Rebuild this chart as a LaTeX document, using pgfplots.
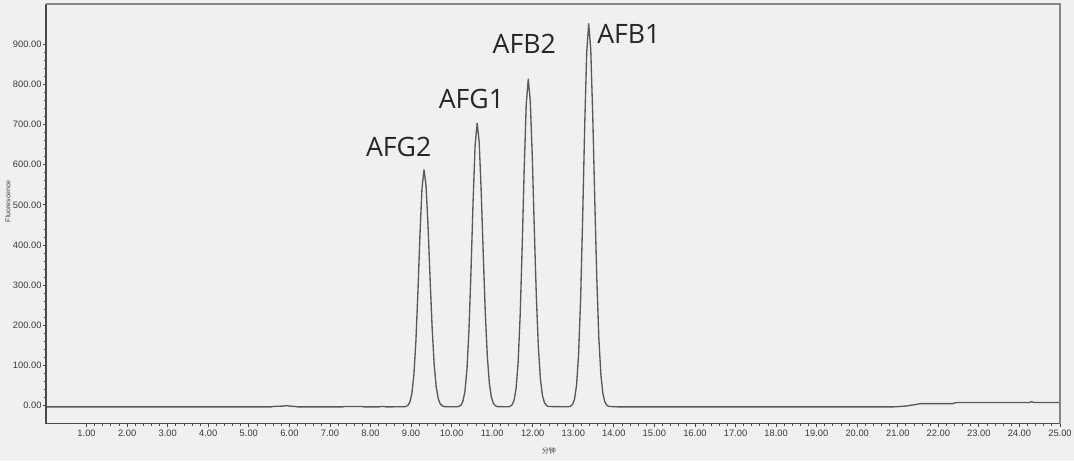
\documentclass[border=0pt]{standalone}
\usepackage{fontspec}
\setmainfont{Liberation Sans}
\newfontfamily\labfont{Open Sans}
\newfontfamily\cjk{Noto Sans CJK SC}
\usepackage{pgfplots}
\pgfplotsset{compat=1.18}
\definecolor{bg}{HTML}{F0F0F0}
\definecolor{curve}{HTML}{595959}
\definecolor{frameA}{HTML}{4A4A4A}
\definecolor{frameB}{HTML}{858585}
\definecolor{ticktext}{HTML}{3A3A3A}
\begin{document}
\begin{tikzpicture}
\fill[bg] (-34.5pt,-28pt) rectangle (771pt,317.8pt);
\begin{axis}[
  at={(0,0)}, anchor=south west,
  scale only axis, width=760.5pt, height=314.8pt,
  xmin=0, xmax=25, ymin=-45, ymax=1000,
  xtick={1,2,...,25}, ytick={0,100,...,900},
  minor x tick num=4, minor y tick num=4,
  xtick pos=bottom, ytick pos=left,
  tick align=outside,
  major tick length=2.6pt, minor tick length=1.4pt,
  every tick/.style={frameA, line width=0.6pt},
  axis line style={draw=none},
  /pgf/number format/assume math mode=true,
  /pgf/number format/.cd, fixed, fixed zerofill, precision=2, /pgfplots/.cd,
  ticklabel style={font=\fontsize{7}{8}\selectfont, text=ticktext},
  yticklabel style={inner sep=0.6pt},
  xticklabel style={inner sep=1pt, yshift=-1.2pt},
  ylabel={Fluorescence},
  ylabel style={font=\fontsize{5.2}{6}\selectfont, text=ticktext, at={(axis description cs:-0.0375,0.53)}, anchor=center, rotate=0},
  xlabel={\cjk 分钟},
  xlabel style={font=\fontsize{5.3}{6}\selectfont, text=ticktext, at={(axis description cs:0.496,-0.064)}, anchor=center},
  clip=false,
]
\addplot[curve, line width=1pt, line join=round] coordinates {
(0,-3) (5.55,-3) (5.6,-2) (5.85,-1) (5.93,0) (6.0,-1) (6.15,-2) (6.2,-3)
(7.32,-3) (7.36,-2) (7.8,-2) (7.84,-3) (8.22,-3) (8.26,-2) (8.34,-2) (8.38,-3)
(8.82,-2.8) (8.87,-2.1) (8.92,0.5) (8.97,8.7) (9.02,30.1) (9.07,76.7) (9.12,161) (9.17,284.3) (9.22,425.3) (9.27,541.6) (9.32,587)
(9.37,548.1) (9.42,445.4) (9.47,315) (9.52,194) (9.57,103.2) (9.62,47) (9.67,17.5) (9.72,4.3) (9.77,-0.7) (9.82,-2.4)
(10.13,-2.8) (10.18,-1.9) (10.23,1.2) (10.28,11) (10.33,36.6) (10.38,92.3) (10.43,193.3) (10.48,340.8) (10.53,509.6) (10.58,648.6) (10.63,703)
(10.68,656.4) (10.73,533.6) (10.78,377.5) (10.83,232.8) (10.88,124.1) (10.93,56.8) (10.98,21.5) (11.03,5.8) (11.08,-0.2) (11.13,-2.3)
(11.39,-2.8) (11.44,-1.8) (11.49,1.9) (11.54,13.2) (11.59,42.8) (11.64,107.2) (11.69,223.8) (11.74,394.4) (11.79,589.4) (11.84,750.2) (11.89,813)
(11.94,759.1) (11.99,617.2) (12.04,436.8) (12.09,269.5) (12.14,143.9) (12.19,66.1) (12.24,25.3) (12.29,7.1) (12.34,0.2) (12.39,-2.2)
(12.88,-2.7) (12.93,-1.5) (12.98,2.7) (13.03,15.9) (13.08,50.5) (13.13,125.8) (13.18,262.2) (13.23,461.6) (13.28,689.6) (13.33,877.5) (13.38,951)
(13.43,888) (13.48,722) (13.53,511.2) (13.58,315.6) (13.63,168.7) (13.68,77.8) (13.73,30.1) (13.78,8.8) (13.83,0.7) (13.88,-2)
(14.1,-3) (20.9,-3) (21.2,-1) (21.45,3) (21.55,5) (22.35,5) (22.45,8) (24.25,8) (24.3,10) (24.35,8) (25,8)
};
\draw[frameA, line width=0.8pt] (rel axis cs:0,1) -- (rel axis cs:0,0) -- (rel axis cs:1,0);
\draw[frameB, line width=1.4pt] (rel axis cs:0,1) -- (rel axis cs:1,1) -- (rel axis cs:1,0);
\node[font=\labfont\fontsize{20}{24}\selectfont, text=black!85] at (axis cs:8.695,643) {AFG2};
\node[font=\labfont\fontsize{20}{24}\selectfont, text=black!85] at (axis cs:10.49,764) {AFG1};
\node[font=\labfont\fontsize{20}{24}\selectfont, text=black!85] at (axis cs:11.79,901) {AFB2};
\node[font=\labfont\fontsize{20}{24}\selectfont, text=black!85] at (axis cs:14.37,925) {AFB1};
\end{axis}
\pgfresetboundingbox
\path[use as bounding box] (-34.5pt,-28pt) rectangle (771pt,317.8pt);
\end{tikzpicture}
\end{document}
